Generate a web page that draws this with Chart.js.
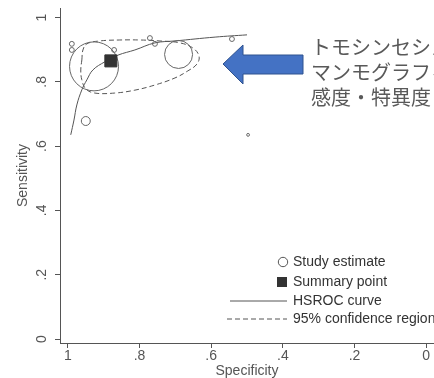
<!DOCTYPE html>
<html>
<head>
<meta charset="utf-8">
<script src="https://cdn.jsdelivr.net/npm/chart.js@4.4.1/dist/chart.umd.min.js"></script>
<style>
  html, body { margin: 0; padding: 0; background: #fff; }
</style>
</head>
<body>
<canvas id="chart" width="434" height="378"></canvas>
<script>
// study estimates (specificity, sensitivity, relative weight -> marker area)
var studySpec = [0.927, 0.691, 0.950, 0.989, 0.989, 0.871, 0.771, 0.757, 0.542, 0.497];
var studySens = [0.848, 0.885, 0.678, 0.918, 0.899, 0.899, 0.936, 0.918, 0.933, 0.635];
var studyWeight = [600, 196, 20, 6, 6, 6, 6, 6, 6, 2];

// summary point
var summarySpec = [0.880];
var summarySens = [0.865];

// HSROC curve
var curveSpec = [0.992, 0.983, 0.975, 0.961, 0.947, 0.930, 0.897, 0.860, 0.813, 0.757, 0.701, 0.589, 0.500];
var curveSens = [0.635, 0.681, 0.728, 0.775, 0.806, 0.837, 0.862, 0.883, 0.899, 0.921, 0.927, 0.939, 0.946];

// 95% confidence region
var regionSpec = [0.961, 0.958, 0.947, 0.911, 0.855, 0.799, 0.743, 0.687, 0.651, 0.634, 0.640, 0.665, 0.701, 0.757, 0.813, 0.869, 0.925, 0.950, 0.961, 0.964, 0.961];
var regionSens = [0.868, 0.899, 0.918, 0.927, 0.930, 0.930, 0.927, 0.921, 0.905, 0.880, 0.855, 0.834, 0.812, 0.790, 0.774, 0.765, 0.765, 0.778, 0.806, 0.837, 0.868];

var xTicks = [1, 0.8, 0.6, 0.4, 0.2, 0];
var xTickLabels = ['1', '.8', '.6', '.4', '.2', '0'];
var yTicks = [0, 0.2, 0.4, 0.6, 0.8, 1];
var yTickLabels = ['0', '.2', '.4', '.6', '.8', '1'];

var legendLabels = ['Study estimate', 'Summary point', 'HSROC curve', '95% confidence region'];
var noteLines = ['トモシンセシス', 'マンモグラフィ', '感度・特異度'];

function toPoints(xs, ys) {
    return xs.map(function (x, i) { return { x: x, y: ys[i] }; });
}

var FONT = '"Liberation Sans", Arial, sans-serif';
var INK = '#555';

// arrow, japanese note and legend drawn on top
var overlay = {
    id: 'overlay',
    afterDraw: function (chart) {
        var c = chart.ctx;
        c.save();

        c.beginPath();
        c.moveTo(223, 64);
        c.lineTo(243, 45);
        c.lineTo(243, 55);
        c.lineTo(303, 55);
        c.lineTo(303, 74);
        c.lineTo(243, 74);
        c.lineTo(243, 84);
        c.closePath();
        c.fillStyle = '#4472c4';
        c.fill();
        c.strokeStyle = '#2f528f';
        c.lineWidth = 1;
        c.stroke();

        c.fillStyle = '#595959';
        c.font = '20px "Noto Sans CJK JP"';
        c.textBaseline = 'middle';
        noteLines.forEach(function (t, i) {
            c.fillText(t, 311, 47 + i * 25);
        });

        // legend
        c.strokeStyle = INK;
        c.lineWidth = 1;
        c.beginPath();
        c.arc(283, 262, 4.7, 0, Math.PI * 2);
        c.stroke();
        c.fillStyle = '#333';
        c.fillRect(277, 277, 10, 10);
        c.beginPath();
        c.moveTo(230, 301);
        c.lineTo(287, 301);
        c.stroke();
        c.setLineDash([5, 3]);
        c.beginPath();
        c.moveTo(227, 319);
        c.lineTo(287, 319);
        c.stroke();
        c.setLineDash([]);

        c.fillStyle = '#333';
        c.font = '14px ' + FONT;
        c.textBaseline = 'middle';
        var ys = [262, 282, 301, 319];
        legendLabels.forEach(function (t, i) {
            c.fillText(t, 293, ys[i]);
        });
        c.restore();
    }
};

new Chart(document.getElementById('chart'), {
    type: 'scatter',
    data: {
        datasets: [{
            label: 'Summary point',
            data: toPoints(summarySpec, summarySens),
            pointStyle: 'rect',
            pointRadius: 8.5,
            backgroundColor: '#333',
            borderColor: '#333',
            borderWidth: 1
        }, {
            label: 'Study estimate',
            data: toPoints(studySpec, studySens),
            pointStyle: 'circle',
            pointRadius: studyWeight.map(function (w) { return Math.sqrt(w); }),
            backgroundColor: 'rgba(0,0,0,0)',
            borderColor: '#666',
            borderWidth: 1
        }, {
            label: 'HSROC curve',
            data: toPoints(curveSpec, curveSens),
            showLine: true,
            pointRadius: 0,
            borderColor: INK,
            borderWidth: 1,
            tension: 0.4,
            fill: false
        }, {
            label: '95% confidence region',
            data: toPoints(regionSpec, regionSens),
            showLine: true,
            pointRadius: 0,
            borderColor: INK,
            borderWidth: 1,
            borderDash: [5, 3],
            tension: 0.4,
            fill: false
        }]
    },
    options: {
        responsive: false,
        animation: false,
        layout: { autoPadding: false, padding: { top: 8, left: 0, right: 0, bottom: 0 } },
        plugins: {
            legend: { display: false },
            tooltip: { enabled: false }
        },
        scales: {
            x: {
                type: 'linear',
                reverse: true,
                min: -0.022,
                max: 1.022,
                afterBuildTicks: function (s) {
                    s.ticks = xTicks.map(function (v) { return { value: v }; });
                },
                afterFit: function (s) {
                    s.height = 35;
                    s.paddingLeft = 0;
                    s.paddingRight = 0;
                },
                ticks: {
                    autoSkip: false,
                    maxRotation: 0,
                    padding: 0,
                    color: INK,
                    font: { family: FONT, size: 14 },
                    callback: function (v, i) { return xTickLabels[i]; }
                },
                grid: { drawOnChartArea: false, tickLength: 5, color: INK },
                border: { color: INK },
                title: {
                    display: true,
                    text: 'Specificity',
                    color: INK,
                    font: { family: FONT, size: 14 },
                    padding: { top: 0, bottom: -2 }
                }
            },
            y: {
                type: 'linear',
                min: -0.0124,
                max: 1.0295,
                afterBuildTicks: function (s) {
                    s.ticks = yTicks.map(function (v) { return { value: v }; });
                },
                afterFit: function (s) {
                    s.width = 60;
                    s.paddingTop = 0;
                    s.paddingBottom = 0;
                },
                ticks: {
                    autoSkip: false,
                    minRotation: 90,
                    maxRotation: 90,
                    crossAlign: 'center',
                    padding: 7,
                    color: INK,
                    font: { family: FONT, size: 14 },
                    callback: function (v, i) { return yTickLabels[i]; }
                },
                grid: { drawOnChartArea: false, tickLength: 5, color: INK },
                border: { color: INK },
                title: {
                    display: true,
                    text: 'Sensitivity',
                    color: INK,
                    font: { family: FONT, size: 14 },
                    padding: { top: 15, bottom: 0 }
                }
            }
        }
    },
    plugins: [overlay]
});
</script>
</body>
</html>
